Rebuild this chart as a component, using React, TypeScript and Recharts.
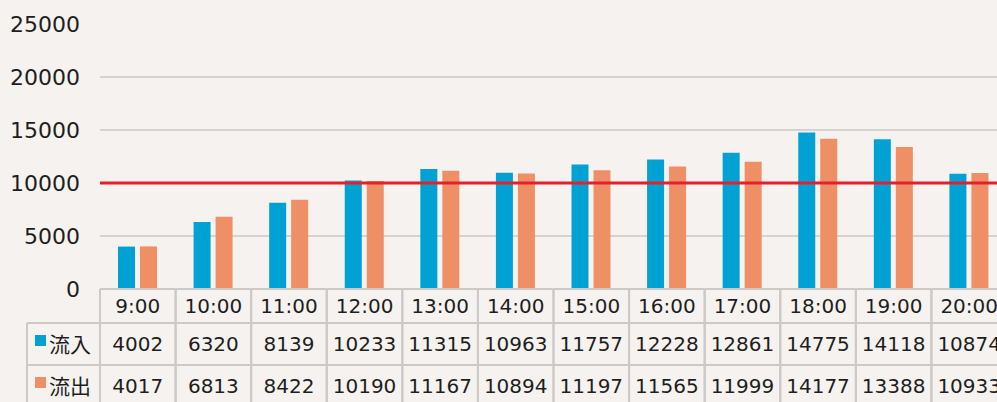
import { Bar, BarChart, CartesianGrid, ReferenceLine, XAxis, YAxis } from "recharts";

const categories = ["9:00", "10:00", "11:00", "12:00", "13:00", "14:00", "15:00", "16:00", "17:00", "18:00", "19:00", "20:00"];
const inflow = [4002, 6320, 8139, 10233, 11315, 10963, 11757, 12228, 12861, 14775, 14118, 10874];
const outflow = [4017, 6813, 8422, 10190, 11167, 10894, 11197, 11565, 11999, 14177, 13388, 10933];
const seriesNames = ["流入", "流出"];
const seriesColors = ["#00a2d3", "#ef8f66"];
const yTicks = [0, 5000, 10000, 15000, 20000, 25000];
const gridValues = [5000, 10000, 15000, 20000];
const threshold = 10000;

const BG = "#f6f2ef";
const BORDER = "#cdc9c6";
const TEXT = "#1e1e1e";
const FONT = "'DejaVu Sans', 'Noto Sans CJK JP', sans-serif";

const CHART_W = 1008;
const CHART_H = 410;
const AXIS_W = 100;
const PLOT_TOP = 24;
const PLOT_H = 265;
const TABLE_H = CHART_H - PLOT_TOP - PLOT_H;
const CELL_W = (CHART_W - 1 - AXIS_W) / categories.length;
const HEAD_H = 34;
const ROW_H = 42;
const LABEL_W = 73;

const rows = [inflow, outflow];

const data = categories.map((c, i) => ({ t: c, inflow: inflow[i], outflow: outflow[i] }));

function TableTick(props: any) {
  const { x, y, payload } = props;
  const i = payload.index;
  const left = x - CELL_W / 2;
  const right = x + CELL_W / 2;
  const lines = [y, y + HEAD_H, y + HEAD_H + ROW_H];
  return (
    <g fontFamily={FONT}>
      {lines.map((ly) => (
        <line key={ly} x1={left} x2={right} y1={ly} y2={ly} stroke={BORDER} strokeWidth={2} />
      ))}
      <line x1={left} x2={left} y1={y} y2={y + TABLE_H} stroke={BORDER} strokeWidth={2} />
      <line x1={right} x2={right} y1={y} y2={y + TABLE_H} stroke={BORDER} strokeWidth={2} />
      <text x={x} y={y + HEAD_H / 2 + 7} textAnchor="middle" fontSize={20} fill={TEXT}>
        {payload.value}
      </text>
      {rows.map((r, k) => (
        <text
          key={k}
          x={x}
          y={y + HEAD_H + ROW_H * k + ROW_H / 2 + 7}
          textAnchor="middle"
          fontSize={20}
          fill={TEXT}
        >
          {r[i]}
        </text>
      ))}
      {i === 0 ? (
        <g>
          <line x1={left - LABEL_W} x2={left} y1={y + HEAD_H} y2={y + HEAD_H} stroke={BORDER} strokeWidth={2} />
          <line
            x1={left - LABEL_W}
            x2={left}
            y1={y + HEAD_H + ROW_H}
            y2={y + HEAD_H + ROW_H}
            stroke={BORDER}
            strokeWidth={2}
          />
          <line x1={left - LABEL_W} x2={left - LABEL_W} y1={y + HEAD_H} y2={y + TABLE_H} stroke={BORDER} strokeWidth={2} />
          {seriesNames.map((name, k) => {
            const cy = y + HEAD_H + ROW_H * k + ROW_H / 2;
            return (
              <g key={name}>
                <rect x={left - LABEL_W + 8} y={cy - 9} width={11} height={11} fill={seriesColors[k]} />
                <text x={left - LABEL_W + 22} y={cy + 8} fontSize={21} fill={TEXT}>
                  {name}
                </text>
              </g>
            );
          })}
        </g>
      ) : null}
    </g>
  );
}

export default function App() {
  return (
    <div
      style={{
        position: "fixed",
        left: 0,
        top: 0,
        width: 997,
        height: 402,
        overflow: "hidden",
        background: BG,
      }}
    >
      <BarChart
        width={CHART_W}
        height={CHART_H}
        data={data}
        margin={{ top: PLOT_TOP, right: 1, bottom: 0, left: 0 }}
        barSize={17}
        barGap={5}
      >
        <CartesianGrid
          vertical={false}
          horizontalValues={gridValues}
          stroke="#cbc7c5"
          strokeWidth={1.5}
        />
        <XAxis
          dataKey="t"
          height={TABLE_H}
          interval={0}
          axisLine={false}
          tickLine={false}
          tickSize={0}
          tickMargin={0}
          tick={<TableTick />}
        />
        <YAxis
          width={AXIS_W}
          domain={[0, 25000]}
          ticks={yTicks}
          axisLine={false}
          tickLine={false}
          tickSize={0}
          tickMargin={20}
          tick={{ fontSize: 22, fill: TEXT, fontFamily: FONT }}
        />
        <Bar dataKey="inflow" name={seriesNames[0]} fill={seriesColors[0]} isAnimationActive={false} />
        <Bar dataKey="outflow" name={seriesNames[1]} fill={seriesColors[1]} isAnimationActive={false} />
        <ReferenceLine y={threshold} stroke="#e3202d" strokeWidth={3} />
      </BarChart>
    </div>
  );
}
